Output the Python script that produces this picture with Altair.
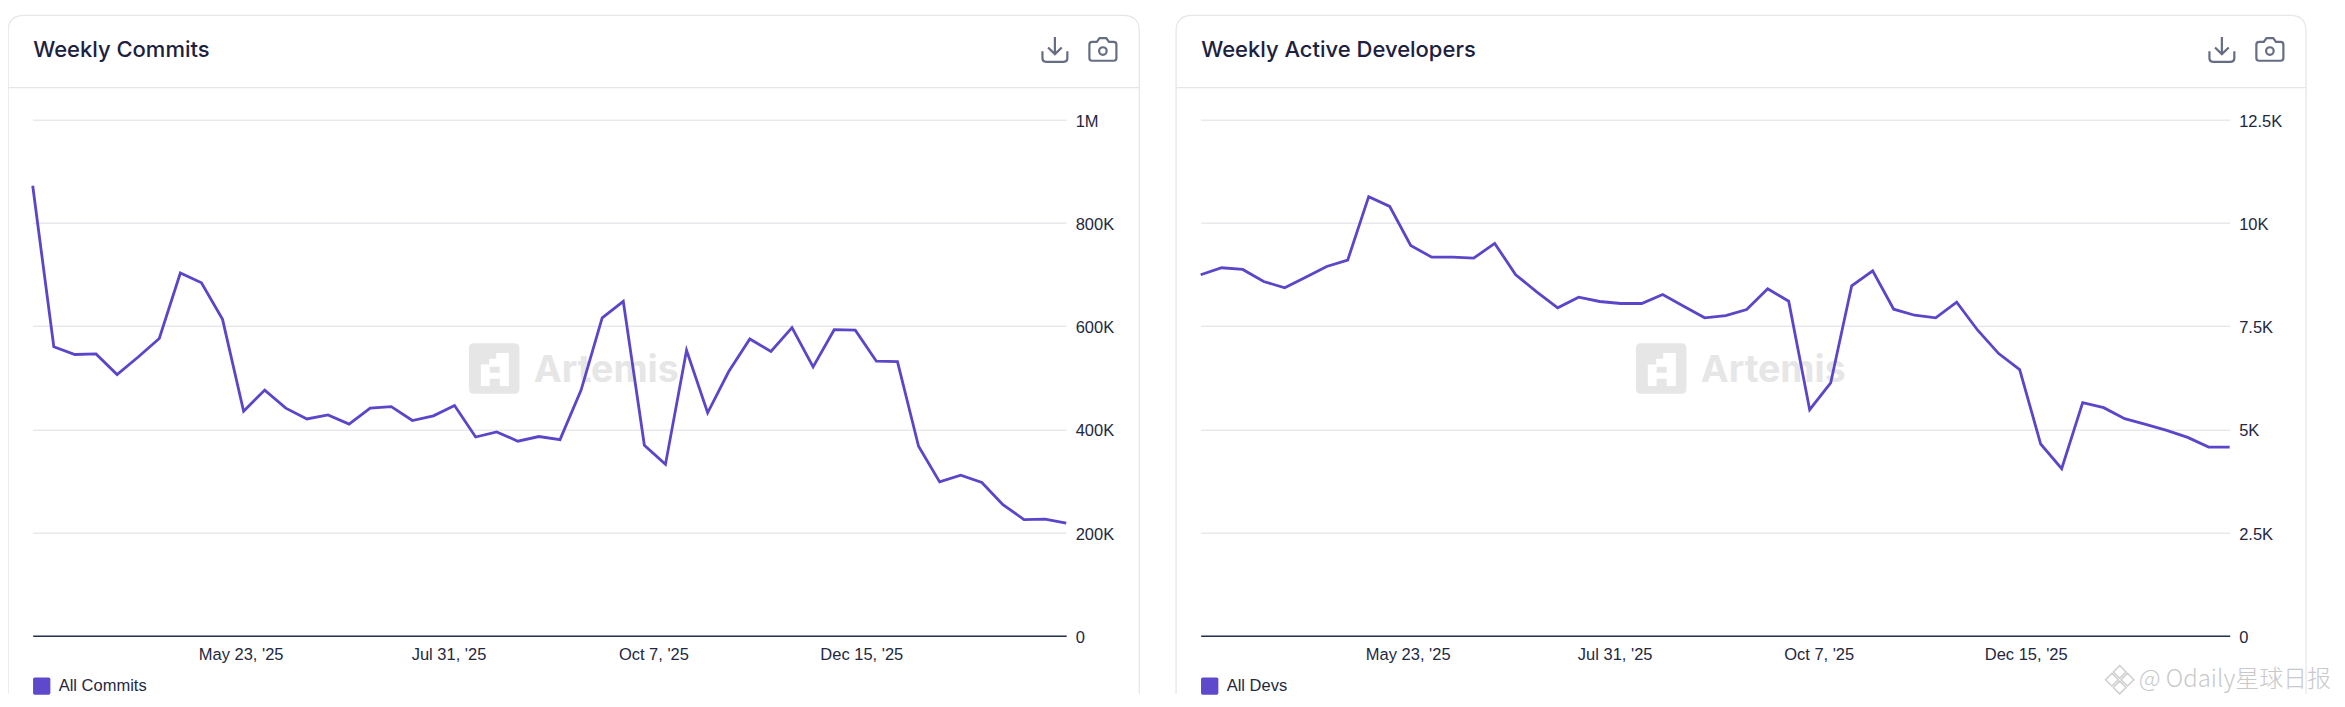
import altair as alt
import pandas as pd

commits = [872, 560, 545, 546, 506, 540, 576, 703, 684, 613, 435, 476, 441, 420, 428, 410, 441, 444, 417, 426,
           446, 385, 395, 377, 386, 380, 476, 616, 648, 369, 332, 553, 432, 512, 575, 551, 597, 521, 593, 592,
           532, 531, 367, 298, 311, 297, 254, 225, 226, 218]
commits = [v * 1000 for v in commits]
devs = [8744, 8913, 8872, 8581, 8428, 8686, 8945, 9098, 10636, 10400, 9454, 9170, 9170, 9146, 9503, 8744, 8331,
        7943, 8200, 8096, 8047, 8047, 8265, 7982, 7700, 7756, 7901, 8404, 8103, 5476, 6123, 8476, 8840, 7909,
        7763, 7700, 8079, 7400, 6834, 6446, 4643, 4044, 5645, 5524, 5257, 5119, 4973, 4804, 4570, 4570]
dates = pd.date_range("2025-03-15", periods=50, freq="7D").strftime("%Y-%m-%dT00:00:00").tolist()
x_ticks = [(2025, 5, 23), (2025, 7, 31), (2025, 10, 7), (2025, 12, 15)]
commit_ticks = [0, 200000, 400000, 600000, 800000, 1000000]
dev_ticks = [0, 2500, 5000, 7500, 10000, 12500]

LINE = "#5b45c9"
INK = "#24283f"
BORDER = "#e5e7eb"
ICON = "#676e84"
WM = "#e6e6e6"
SANS = "Liberation Sans"

DOWNLOAD = ("M0 -1 V0.35 M-0.55 -0.15 L0 0.38 L0.55 -0.15 "
            "M-1 0.15 V0.72 Q-1 1 -0.72 1 H0.72 Q1 1 1 0.72 V0.15")
CAMERA = ("M-0.8 -0.55 H-0.45 L-0.25 -0.84 H0.25 L0.45 -0.55 H0.8 Q1 -0.55 1 -0.35 V0.64 Q1 0.84 0.8 0.84 "
          "H-0.8 Q-1 0.84 -1 0.64 V-0.35 Q-1 -0.55 -0.8 -0.55 Z "
          "M0.28 0.12 A0.28 0.28 0 1 1 -0.28 0.12 A0.28 0.28 0 1 1 0.28 0.12 Z")
ROUND = ("M-0.8 -1 H0.8 Q1 -1 1 -0.8 V0.8 Q1 1 0.8 1 H-0.8 Q-1 1 -1 0.8 V-0.8 Q-1 -1 -0.8 -1 Z")
LOGO = ("M0.08 -0.62 L0.58 -0.62 L0.58 0.69 L0.22 0.69 L0.22 0.40 L-0.18 0.40 L-0.18 0.69 L-0.53 0.69 "
        "L-0.53 -0.16 L-0.20 -0.16 L-0.20 -0.39 L0.08 -0.39 Z "
        "M-0.18 -0.07 L-0.18 0.16 L0.22 0.16 L0.22 -0.07 Z")
DIAMOND = ("M0 -1 L0.45 -0.55 L0 -0.1 L-0.45 -0.55 Z M-0.55 -0.45 L-0.1 0 L-0.55 0.45 L-1 0 Z "
           "M0.55 -0.45 L1 0 L0.55 0.45 L0.1 0 Z M0 0.1 L0.45 0.55 L0 1 L-0.45 0.55 Z")

ONE = alt.Data(values=[{}])
CARD_LEFT = -24.6
CARD_TOP = -104.3
CARD_BOTTOM = 574
CORNER = 16


def pos_mark(mark, x, y):
    return alt.Chart(ONE).mark_point(**mark).encode(x=alt.value(x), y=alt.value(y))


def card_outline(right):
    # open-ended outline: the card runs on past the bottom of the picture; size 4 makes one path unit one pixel
    return (f"M{CARD_LEFT} {CARD_BOTTOM} V{CARD_TOP + CORNER} Q{CARD_LEFT} {CARD_TOP} {CARD_LEFT + CORNER} {CARD_TOP} "
            f"H{right - CORNER} Q{right} {CARD_TOP} {right} {CARD_TOP + CORNER} V{CARD_BOTTOM}")


def panel(title, series, values, ticks, width, card_right, dx, wm_odaily=False):
    frame = pd.DataFrame({"date": dates, "value": values, "series": series})
    label_expr = ("datum.value == 0 ? '0' : datum.value >= 1000000 ? (datum.value / 1000000) + 'M' "
                  ": (datum.value / 1000) + 'K'")
    card = pos_mark(dict(shape=card_outline(card_right), size=4, filled=False, stroke=BORDER, strokeWidth=1.3,
                         strokeJoin="round", strokeCap="butt", opacity=1), 0, 0)
    divider = alt.Chart(ONE).mark_rule(color=BORDER, strokeWidth=1.3).encode(
        x=alt.value(CARD_LEFT), x2=alt.value(card_right), y=alt.value(-32))
    heading = alt.Chart(ONE).mark_text(text=title, font="Inter", fontWeight=500, fontSize=22, color="#1c2140",
                                       align="left", baseline="alphabetic").encode(
        x=alt.value(0.5), y=alt.value(-63))
    logo_bg = pos_mark(dict(shape=ROUND, size=2550, filled=True, fill=WM, stroke=None, opacity=1), 461.5 + dx, 248.9)
    logo_fg = pos_mark(dict(shape=LOGO, size=2550, filled=True, fill="#ffffff", stroke=None, opacity=1), 461.5 + dx, 248.9)
    wm_text = alt.Chart(ONE).mark_text(text="Artemis", font="Inter", fontWeight=700, fontSize=37.5, color=WM,
                                       align="left", baseline="middle").encode(
        x=alt.value(501 + dx), y=alt.value(251))
    download = pos_mark(dict(shape=DOWNLOAD, size=620, filled=False, stroke=ICON, strokeWidth=2.2, opacity=1), 1022.2 + dx, -70.3)
    camera = pos_mark(dict(shape=CAMERA, size=730, filled=False, stroke=ICON, strokeWidth=2.2, opacity=1), 1070.2 + dx, -70.3)
    line = alt.Chart(frame).mark_line(strokeWidth=2.8, strokeJoin="miter").encode(
        x=alt.X("date:T", title=None,
                scale=alt.Scale(domain=[dates[0], dates[-1]], nice=False),
                axis=alt.Axis(values=[alt.DateTime(year=y, month=m, date=d) for y, m, d in x_ticks],
                              format="%b %-d, '%y", grid=False, ticks=False, domainColor="#26304f",
                              domainWidth=1.6, labelFont=SANS, labelFontSize=16.5, labelColor=INK,
                              labelPadding=11, labelOverlap=False, labelFlush=False)),
        y=alt.Y("value:Q", title=None, scale=alt.Scale(domain=[0, ticks[-1]], nice=False),
                axis=alt.Axis(orient="right", values=ticks, labelExpr=label_expr, grid=True, gridColor="#e8e9ed",
                              gridWidth=1.4, ticks=False, domain=False, labelFont=SANS, labelFontSize=16.5,
                              labelColor=INK, labelPadding=9, labelOffset=1.7, labelBaseline="middle",
                              labelOverlap=False, labelBound=False)),
        color=alt.Color("series:N", scale=alt.Scale(domain=[series], range=[LINE]),
                        legend=alt.Legend(title=None, orient="none", legendX=0, legendY=557.5, symbolType=ROUND,
                                          symbolSize=300, symbolFillColor="#5e48cc", symbolStrokeWidth=0,
                                          labelFont=SANS, labelFontSize=16.5, labelColor=INK, labelOffset=8,
                                          padding=0)),
    )
    layers = [card, divider, heading, logo_bg, logo_fg, wm_text, download, camera, line]
    if wm_odaily:
        layers += [
            pos_mark(dict(shape=DIAMOND, size=800, filled=False, stroke="#cfcfcf", strokeWidth=1.5, opacity=1), 919, 560),
            alt.Chart(ONE).mark_text(text="@ Odaily星球日报", font="Noto Sans CJK SC", fontWeight=300, fontSize=24,
                                     color="#c9c9c9", align="left", baseline="middle").encode(
                x=alt.value(938), y=alt.value(560.4)),
        ]
    return alt.layer(*layers).properties(width=width, height=516)


p1 = panel("Weekly Commits", "All Commits", commits, commit_ticks, 1033.5, 1106.6, 0)
p2 = panel("Weekly Active Developers", "All Devs", devs, dev_ticks, 1029, 1105.4, -1, wm_odaily=True)

chart = alt.hconcat(p1, p2, spacing=34).resolve_scale(color="independent", x="independent", y="independent").properties(
    padding={"left": -1.3, "top": 6.7, "right": 0, "bottom": 0}
).configure_view(stroke=None)

chart.save("out.html", embed_options={"renderer": "svg", "actions": False})
